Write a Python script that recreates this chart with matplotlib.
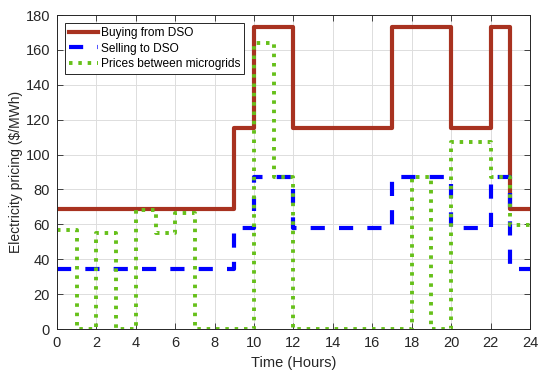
import numpy as np
from matplotlib import pyplot as plt

# breakpoints (hours) and price levels ($/MWh) for each tariff
buy_edges = [0, 9, 10, 12, 17, 20, 22, 23, 24]
buy_price = [69, 115, 173, 115, 173, 115, 173, 69]

sell_edges = [0, 9, 10, 12, 17, 20, 22, 23, 24]
sell_price = [34.5, 58, 87, 58, 87, 58, 87, 34.5]

mg_edges = [0, 1, 2, 3, 4, 5, 6, 7, 10, 11, 12, 18, 19, 20, 22, 23, 24]
mg_price = [57, 0, 55, 0, 68, 55, 66.5, 0, 164, 87, 0, 87, 0, 107, 87, 59.5]


def steps(edges, vals):
    # repeat last value so the final step reaches the right edge
    return edges, list(vals) + [vals[-1]]


plt.rcParams['font.family'] = ['Liberation Sans', 'DejaVu Sans']

fig = plt.figure(figsize=(5.5, 3.8), dpi=100)
ax = fig.add_axes([0.1036, 0.134, 0.86, 0.8265])

x, y = steps(buy_edges, buy_price)
ax.step(x, y, where='post', color='#A83220', linewidth=3.0, label='Buying from DSO')
x, y = steps(sell_edges, sell_price)
ax.step(x, y, where='post', color='#0000FF', linewidth=3.0, linestyle=(0, (3.4, 3.4)),
        label='Selling to DSO')
x, y = steps(mg_edges, mg_price)
ax.step(x, y, where='post', color='#66C01A', linewidth=2.8, linestyle=(0, (0.9, 1.5)),
        label='Prices between microgrids')

ax.set_xlim(0, 24)
ax.set_ylim(0, 180)
ax.set_xticks(np.arange(0, 25, 2))
ax.set_yticks(np.arange(0, 181, 20))
ax.grid(True, color='#DDDDDD', linewidth=0.7)
ax.set_axisbelow(True)
ax.tick_params(direction='in', top=True, right=True, labelsize=10.5, length=4,
               width=0.6, colors='#262626', pad=5)
for s in ax.spines.values():
    s.set_linewidth(0.7)
    s.set_color('#262626')

ax.set_xlabel('Time (Hours)', fontsize=10.5, color='#262626', labelpad=4)
ax.set_ylabel('Electricity pricing ($/MWh)', fontsize=10, color='#262626', labelpad=2)

leg = ax.legend(loc='upper left', fontsize=8.6, fancybox=False, framealpha=1,
                edgecolor='#262626', borderpad=0.3, handlelength=2.4,
                handletextpad=0.3, labelspacing=0.3, borderaxespad=0.7)
leg.get_frame().set_linewidth(0.7)

plt.savefig('out.png', dpi=100)
